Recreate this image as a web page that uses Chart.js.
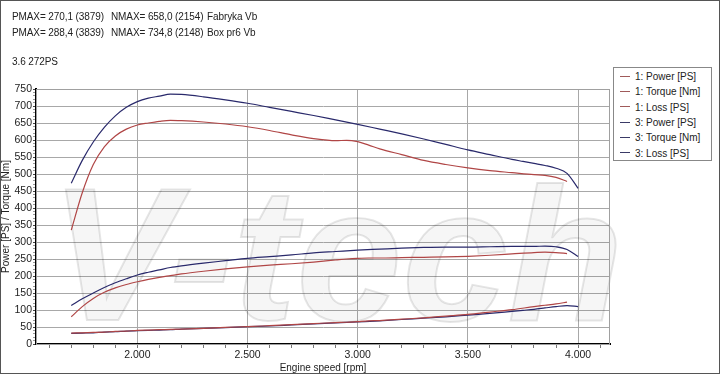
<!DOCTYPE html>
<html>
<head>
<meta charset="utf-8">
<script src="https://cdn.jsdelivr.net/npm/chart.js@4.4.1/dist/chart.umd.min.js"></script>
<style>
  html, body { margin: 0; padding: 0; background: #fff; }
  #wrap { position: relative; width: 720px; height: 374px; overflow: hidden;
          font-family: "Liberation Sans", Arial, sans-serif; color: #222; }
  #chart { position: absolute; left: 0; top: 0; }
  .hdr { position: absolute; font-size: 10px; line-height: 13px; white-space: pre; letter-spacing: -0.1px; }
  #legend { position: absolute; left: 613px; top: 67px; width: 97px; height: 92px;
            border: 1px solid #888; background: #fff; font-size: 10px; }
  #legend div { position: absolute; left: 0; height: 14px; line-height: 14px; white-space: nowrap; }
  #legend span.ln { display: inline-block; width: 10px; height: 0; border-top: 1px solid; vertical-align: middle;
                    margin: 0 5px 0 6px; position: relative; top: -1px; }
  #frame { position: absolute; left: 0; top: 0; width: 718px; height: 372px; border: 1px solid #555; pointer-events: none; }
</style>
</head>
<body>
<div id="wrap">
  <canvas id="chart" width="720" height="374"></canvas>
  <div class="hdr" style="left:12px;top:10px">PMAX= 270,1 (3879)</div>
  <div class="hdr" style="left:111px;top:10px">NMAX= 658,0 (2154)</div>
  <div class="hdr" style="left:207px;top:10px">Fabryka Vb</div>
  <div class="hdr" style="left:12px;top:26px">PMAX= 288,4 (3839)</div>
  <div class="hdr" style="left:111px;top:26px">NMAX= 734,8 (2148)</div>
  <div class="hdr" style="left:207px;top:26px">Box pr6 Vb</div>
  <div class="hdr" style="left:12px;top:55px">3.6 272PS</div>
  <div id="legend"></div>
  <div id="frame"></div>
</div>
<script>
// run 1: factory (Fabryka Vb)
const rpm1 = [1700, 1750, 1800, 1850, 1900, 1950, 2000, 2050, 2100, 2150, 2200, 2300, 2400, 2500, 2600, 2700,
              2800, 2900, 2950, 3000, 3050, 3100, 3200, 3300, 3400, 3500, 3600, 3700, 3800, 3850, 3900, 3950];
const power1 = [80, 110, 134, 152, 165, 175, 183, 190, 196, 201, 206, 214, 221, 227, 232, 236,
                241, 247, 250, 252, 253, 253, 254, 255, 256, 258, 261, 265, 269, 270, 269, 266];
const torque1 = [335, 445, 528, 580, 612, 632, 644, 650, 655, 658, 657, 653, 647, 639, 628, 615,
                 604, 598, 599, 595, 585, 574, 557, 540, 528, 518, 510, 504, 498, 496, 490, 478];
const loss1 = [32, 33, 34, 35, 37, 38, 40, 41, 42, 43, 44, 46, 49, 51, 54, 57,
               60, 63, 64, 66, 68, 69, 73, 77, 82, 87, 94, 101, 110, 114, 118, 123];

// run 3: box (Box pr6 Vb)
const rpm3 = [1700, 1750, 1800, 1850, 1900, 1950, 2000, 2050, 2100, 2150, 2200, 2300, 2400, 2500, 2600, 2700,
              2800, 2900, 3000, 3100, 3200, 3300, 3400, 3500, 3600, 3700, 3750, 3800, 3850, 3900, 3950, 4000];
const power3 = [113, 133, 150, 166, 180, 192, 203, 211, 218, 225, 230, 238, 245, 252, 257, 262,
                268, 272, 276, 279, 282, 284, 285, 285, 286, 287, 287, 287, 288, 286, 278, 257];
const torque3 = [473, 540, 594, 637, 671, 696, 713, 723, 729, 735, 734, 727, 718, 708, 696, 684,
                 672, 659, 646, 632, 618, 603, 587, 571, 557, 543, 537, 531, 525, 517, 502, 458];
const loss3 = [31, 32, 33, 35, 36, 38, 39, 40, 41, 42, 44, 46, 48, 51, 53, 56,
               59, 62, 65, 68, 72, 76, 80, 85, 90, 96, 99, 102, 106, 110, 113, 110];

const legendLabels = ['1: Power [PS]', '1: Torque [Nm]', '1: Loss [PS]', '3: Power [PS]', '3: Torque [Nm]', '3: Loss [PS]'];

const red = '#b04646';
const navy = '#29296b';

const pts = (xs, ys) => xs.map((x, i) => ({ x, y: ys[i] }));

// ---- html legend ----
const legendEl = document.getElementById('legend');
legendLabels.forEach((txt, i) => {
  const d = document.createElement('div');
  d.style.top = (2 + i * 15.3) + 'px';
  d.innerHTML = `<span class="ln" style="border-color:${i < 3 ? '#a05a5a' : '#3a3a66'}"></span>${txt}`;
  legendEl.appendChild(d);
});

// plot frame + faint watermark behind the curves
const frameArea = {
  id: 'frameArea',
  beforeDatasetsDraw(chart) {
    const { ctx, chartArea: a } = chart;
    ctx.save();
    ctx.font = 'italic bold 190px "Liberation Sans"';
    ctx.textBaseline = 'alphabetic';
    ctx.fillStyle = 'rgba(0,0,0,0.035)';
    ctx.strokeStyle = 'rgba(0,0,0,0.10)';
    ctx.lineWidth = 2;
    ctx.fillText('V-tech', 50, 320);
    ctx.strokeText('V-tech', 50, 320);
    ctx.strokeStyle = '#a0a0a0';
    ctx.lineWidth = 1;
    ctx.strokeRect(a.left + 0.5, a.top + 0.5, a.right - a.left - 1, a.bottom - a.top);
    ctx.restore();
  },
};

const line = (label, data, color) => ({
  label, data, borderColor: color, backgroundColor: color,
  borderWidth: 1.2, pointRadius: 0, cubicInterpolationMode: 'monotone', fill: false,
});

new Chart(document.getElementById('chart'), {
  type: 'line',
  data: {
    datasets: [
      line(legendLabels[0], pts(rpm1, power1), red),
      line(legendLabels[1], pts(rpm1, torque1), red),
      line(legendLabels[2], pts(rpm1, loss1), red),
      line(legendLabels[3], pts(rpm3, power3), navy),
      line(legendLabels[4], pts(rpm3, torque3), navy),
      line(legendLabels[5], pts(rpm3, loss3), navy),
    ],
  },
  options: {
    responsive: false, animation: false,
    layout: { padding: { left: 0, top: 89, right: 110, bottom: 0 } },
    plugins: { legend: { display: false }, tooltip: { enabled: false } },
    scales: {
      x: {
        type: 'linear', min: 1540, max: 4145,
        afterBuildTicks: s => { const t = []; for (let v = 1600; v <= 4100; v += 100) t.push({ value: v }); s.ticks = t; },
        afterFit: s => { s.height = 30; },
        border: { color: '#000', width: 2 },
        grid: {
          color: c => (c.tick && c.tick.value % 500 === 0) ? '#a8a8a8' : 'rgba(0,0,0,0)',
          tickColor: '#777', tickLength: 4, lineWidth: 1,
        },
        ticks: {
          autoSkip: false, maxRotation: 0, padding: 1, color: '#222',
          font: { family: 'Liberation Sans', size: 10.5 },
          callback: v => v % 500 === 0 ? (v / 1000).toFixed(3) : '',
        },
        title: { display: true, text: 'Engine speed [rpm]', color: '#222', padding: { top: 0, bottom: 0 },
                 font: { family: 'Liberation Sans', size: 10 } },
      },
      y: {
        min: 0, max: 750,
        afterBuildTicks: s => { const t = []; for (let v = 0; v <= 750; v += 10) t.push({ value: v }); s.ticks = t; },
        afterFit: s => { s.width = 36; },
        border: { color: '#000', width: 2 },
        grid: {
          color: c => (c.tick && c.tick.value % 50 === 0) ? '#a8a8a8' : 'rgba(0,0,0,0)',
          tickColor: c => (c.tick && c.tick.value % 50 === 0) ? '#444' : '#999', tickLength: 3, lineWidth: 1,
        },
        ticks: {
          autoSkip: false, padding: 1, color: '#222',
          font: { family: 'Liberation Sans', size: 10.5 },
          callback: v => v % 50 === 0 ? v : '',
        },
        title: { display: true, text: 'Power [PS] / Torque [Nm]', color: '#222', padding: { top: 0, bottom: 2 },
                 font: { family: 'Liberation Sans', size: 10 } },
      },
    },
  },
  plugins: [frameArea],
});
</script>
</body>
</html>
